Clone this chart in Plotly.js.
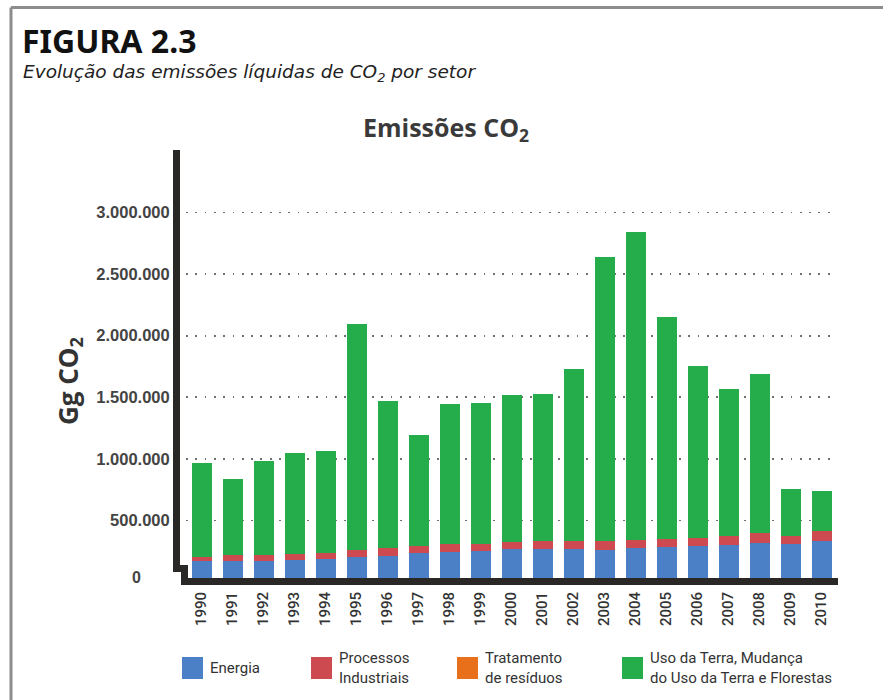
<!DOCTYPE html>
<html>
<head>
<meta charset="utf-8">
<script src="https://cdn.plot.ly/plotly-3.0.1.min.js"></script>
<style>html,body{margin:0;padding:0;background:#fff;}#chart{width:883px;height:700px;}</style>
</head>
<body>
<div id="chart"></div>
<script>
// ---- data (Gg CO2) ----
const anos = ["1990","1991","1992","1993","1994","1995","1996","1997","1998","1999","2000","2001","2002","2003","2004","2005","2006","2007","2008","2009","2010"];
const energia = [167000,167000,172000,180000,185000,202000,215000,234000,242000,250000,264000,270000,270000,262000,278000,283000,289000,302000,319000,305000,337000];
const processos = [35000,49000,49000,49000,52000,54000,59000,57000,63000,60000,59000,67000,62000,67000,65000,68000,67000,70000,78000,67000,81000];
const residuos = [20,20,20,20,20,20,20,20,20,20,20,20,20,20,20,20,20,20,20,20,20];
const usoTerra = [764000,620000,759000,821000,824000,1837000,1196000,900000,1144000,1144000,1199000,1190000,1401000,2312000,2501000,1797000,1398000,1195000,1296000,382000,318000];
const yTicks = [500000,1000000,1500000,2000000,2500000,3000000];
const yTickText = ["500.000","1.000.000","1.500.000","2.000.000","2.500.000","3.000.000"];
const seriesNames = ["Energia","Processos<br>Industriais","Tratamento<br>de resíduos","Uso da Terra, Mudança<br>do Uso da Terra e Florestas"];
const colors = ["#4b7fc6","#cc4a50","#e8701a","#26ad4b"];

// ---- layout geometry (pixels) ----
const L = 186, R = 837, T = 150, B = 582;
const W = R - L, H = B - T;
const px = x => (x - L) / W;
const py = y => (B - y) / H;

const series = [energia, processos, residuos, usoTerra];
const traces = series.map((vals, i) => ({
  type: "bar",
  x: anos,
  y: vals,
  name: seriesNames[i],
  marker: {color: colors[i], line: {width: 0}},
  hoverinfo: "x+y+name"
}));

const shapes = [
  // page frame (top and left)
  {type:"line", xref:"paper", yref:"paper", x0:px(11), x1:px(883), y0:py(7.5), y1:py(7.5), line:{color:"#8c8c8c", width:3}},
  {type:"line", xref:"paper", yref:"paper", x0:px(11), x1:px(11), y0:py(7.5), y1:py(700), line:{color:"#8c8c8c", width:3}},
  // stepped axis frame
  {type:"path", xref:"paper", yref:"paper", layer:"above",
   path:`M ${px(176.5)},${py(150)} L ${px(176.5)},${py(568.5)} L ${px(184.5)},${py(568.5)} L ${px(184.5)},${py(581.5)} L ${px(838)},${py(581.5)}`,
   line:{color:"#2a2826", width:7}}
];

const legendX = [182, 311, 457, 622];
seriesNames.forEach((n, i) => {
  shapes.push({type:"rect", xref:"paper", yref:"paper",
    x0:px(legendX[i]), x1:px(legendX[i]+21), y0:py(679), y1:py(657),
    fillcolor:colors[i], line:{width:0}});
});

const annotations = [
  {xref:"paper", yref:"paper", x:px(20), y:py(41), xanchor:"left", yanchor:"middle", showarrow:false,
   text:"<b>FIGURA 2.3</b>", font:{family:"Noto Sans", size:32, color:"#111"}},
  {xref:"paper", yref:"paper", x:px(21), y:py(73), xanchor:"left", yanchor:"middle", showarrow:false,
   text:"<i>Evolução das emissões líquidas de CO<sub>2</sub> por setor</i>", font:{family:"DejaVu Sans", size:18.5, color:"#222"}},
  {xref:"paper", yref:"paper", x:px(446), y:py(128), xanchor:"center", yanchor:"middle", showarrow:false,
   text:"<b>Emissões CO<sub>2</sub></b>", font:{family:"Open Sans", size:25, color:"#3a3a3a"}},
  {xref:"paper", yref:"paper", x:px(69), y:py(381), xanchor:"center", yanchor:"middle", showarrow:false, textangle:-90,
   text:"<b>Gg CO<sub>2</sub></b>", font:{family:"Open Sans", size:26, color:"#333"}},
  {xref:"paper", yref:"paper", x:px(136), y:py(577), xanchor:"center", yanchor:"middle", showarrow:false,
   text:"<b>0</b>", font:{family:"Liberation Sans", size:16, color:"#444"}}
];
seriesNames.forEach((n, i) => {
  annotations.push({xref:"paper", yref:"paper", x:px(legendX[i]+26), y:py(668), xanchor:"left", yanchor:"middle",
    align:"left", showarrow:false, text:n, font:{family:"Roboto", size:15, color:"#333"}});
});

const layout = {
  width: 883, height: 700,
  margin: {l: L, r: 883 - R, t: T, b: 700 - B, pad: 0},
  paper_bgcolor: "#fff", plot_bgcolor: "#fff",
  barmode: "stack",
  bargap: 0.355,
  showlegend: false,
  separators: ",.",
  xaxis: {
    type: "category",
    tickangle: -90,
    tickfont: {family: "Roboto", size: 15, color: "#333", weight: 500},
    ticks: "outside", ticklen: 3, tickcolor: "rgba(0,0,0,0)",
    showgrid: false, zeroline: false, showline: false,
    fixedrange: true
  },
  yaxis: {
    range: [0, 3508000],
    tickvals: yTicks,
    ticktext: yTickText,
    tickfont: {family: "Liberation Sans", size: 16.5, color: "#444", weight: "bold"},
    ticks: "outside", ticklen: 12, tickcolor: "rgba(0,0,0,0)",
    showgrid: true, gridcolor: "#707070", gridwidth: 1.8, griddash: "1.8px,7.5px",
    zeroline: false, showline: false,
    fixedrange: true
  },
  shapes: shapes,
  annotations: annotations
};

Plotly.newPlot("chart", traces, layout, {displayModeBar: false, staticPlot: true});
</script>
</body>
</html>
